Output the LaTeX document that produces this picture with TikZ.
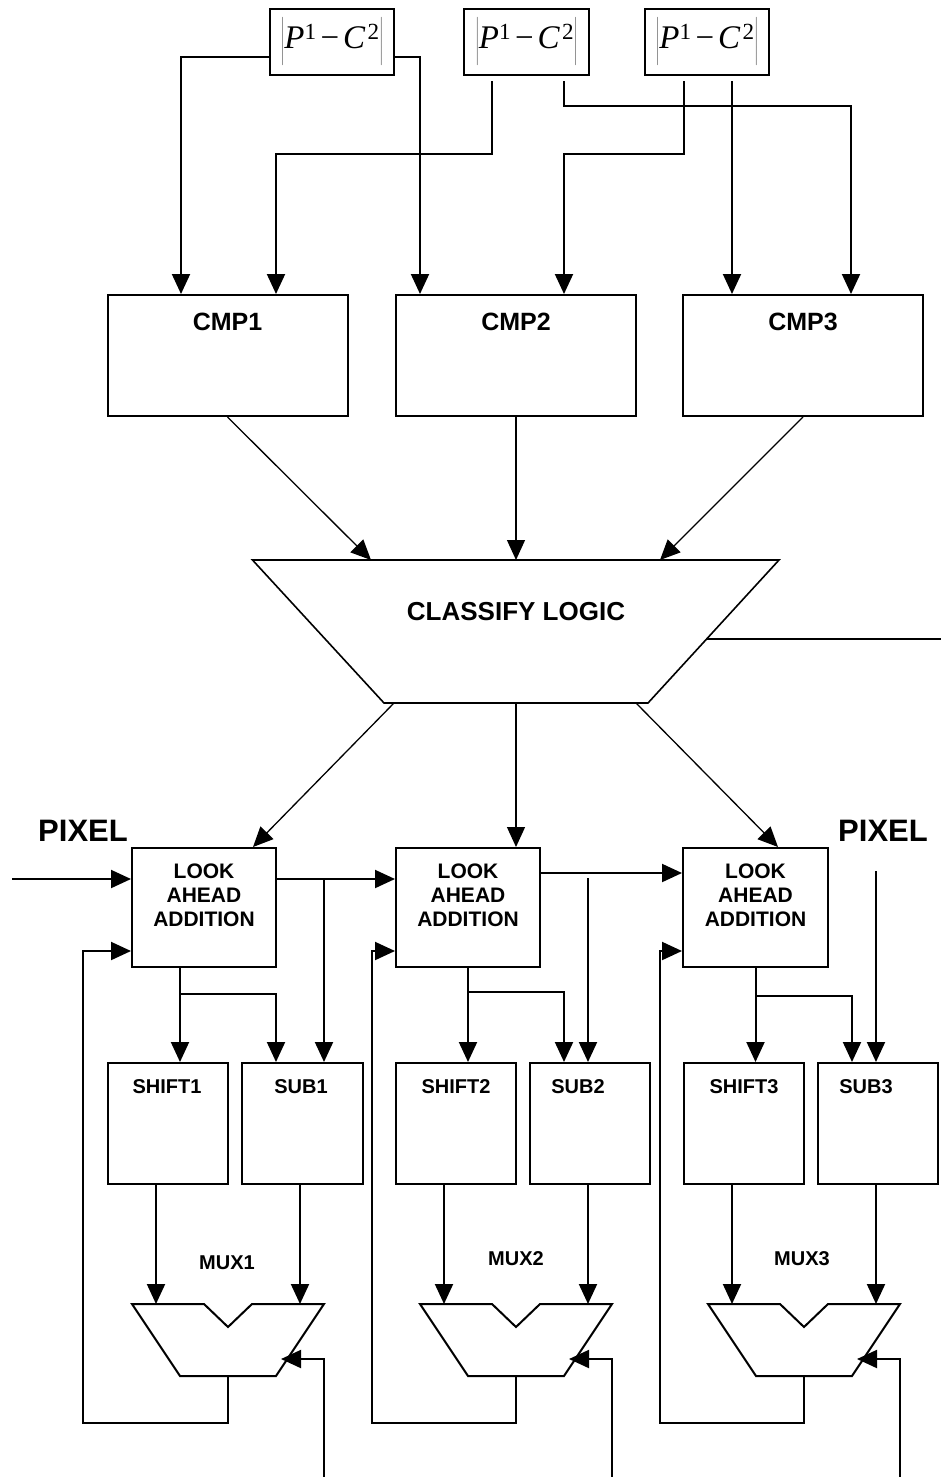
\documentclass[tikz,border=0pt]{standalone}
\usepackage{fontspec}
\setmainfont{Liberation Sans}
\newfontfamily\tnr{Liberation Serif}
\usetikzlibrary{arrows.meta,positioning,calc}

\newcommand{\pcterm}{\fontsize{33}{40}\selectfont$\left|\mbox{\rule[-12pt]{0pt}{42pt}\tnr\textit{P}\textsuperscript{1}\kern4pt−\kern4pt\textit{C}\kern2pt\textsuperscript{2}}\right|$}

\tikzset{
  blk/.style={draw,line width=2pt,inner sep=0pt},
  arr/.style={line width=2pt,-{Triangle[length=20pt,width=18pt]}},
  tarr/.style={line width=1.3pt,-{Triangle[length=20pt,width=18pt]}},
  cmptxt/.style={font=\bfseries\fontsize{25}{30}\selectfont},
  latxt/.style={font=\bfseries\fontsize{21}{24}\selectfont,align=center},
  boxtxt/.style={font=\bfseries\fontsize{20}{24}\selectfont},
  pixtxt/.style={font=\bfseries\fontsize{31}{36}\selectfont},
}

\begin{document}
\begin{tikzpicture}[x=1pt,y=-1pt]
\useasboundingbox (0,0) rectangle (941,1477);
% difference terms
\node[blk,line width=2.5pt,minimum width=124pt,minimum height=66pt] (in1) at (332,42) {\pcterm};
\node[blk,line width=2.5pt,minimum width=125pt,minimum height=66pt] (in2) at (526.5,42) {\pcterm};
\node[blk,line width=2.5pt,minimum width=124pt,minimum height=66pt] (in3) at (707,42) {\pcterm};
% comparators
\node[blk,minimum width=240pt,minimum height=121pt,label={[cmptxt,anchor=center,yshift=-28pt]north:CMP1}] (cmp1) at (227.5,355.5) {};
\node[blk,minimum width=240pt,minimum height=121pt,label={[cmptxt,anchor=center,yshift=-28pt]north:CMP2}] (cmp2) at (516,355.5) {};
\node[blk,minimum width=240pt,minimum height=121pt,label={[cmptxt,anchor=center,yshift=-28pt]north:CMP3}] (cmp3) at (803,355.5) {};
\draw[arr] ([yshift=-15pt]in1.west) -| ([xshift=-46.5pt]cmp1.north);
\draw[arr] ([yshift=-15pt]in1.east) -| ([xshift=-96pt]cmp2.north);
\draw[arr] ([xshift=-34.5pt,yshift=-5pt]in2.south) -- ++(0,73) -| ([xshift=48.5pt]cmp1.north);
\draw[arr] ([xshift=37.5pt,yshift=-5pt]in2.south) -- ++(0,25) -| ([xshift=48pt]cmp3.north);
\draw[arr] ([xshift=-23pt,yshift=-5pt]in3.south) -- ++(0,73) -| ([xshift=48pt]cmp2.north);
\draw[arr] ([xshift=25pt,yshift=-5pt]in3.south) -- ([xshift=-71pt]cmp3.north);
% classify logic
\draw[line width=1.6pt] (252.5,560) -- (779,560) -- (648,703) -- (384,703) -- cycle;
\node[cmptxt,font=\bfseries\fontsize{26}{30}\selectfont] (cls) at (516,612) {CLASSIFY LOGIC};
\coordinate (cl1) at (371,560);
\coordinate (cl2) at (516,560);
\coordinate (cl3) at (660,560);
\coordinate (co1) at (394,703);
\coordinate (co2) at (516,703);
\coordinate (co3) at (636,703);
\coordinate (clr) at (707,639);
\draw[tarr] (cmp1.south) -- (cl1);
\draw[tarr] (cmp2.south) -- (cl2);
\draw[tarr] (cmp3.south) -- (cl3);
\draw[line width=1.3pt] (clr) -- (941,639);
% look ahead adders
\node[blk,minimum width=144pt,minimum height=119pt,label={[latxt,anchor=center,yshift=-48pt]north:LOOK\\AHEAD\\ADDITION}] (la1) at (204,907.5) {};
\node[blk,minimum width=144pt,minimum height=119pt,label={[latxt,anchor=center,yshift=-48pt]north:LOOK\\AHEAD\\ADDITION}] (la2) at (468,907.5) {};
\node[blk,minimum width=145pt,minimum height=119pt,label={[latxt,anchor=center,yshift=-48pt]north:LOOK\\AHEAD\\ADDITION}] (la3) at (755.5,907.5) {};
\draw[tarr] (co1) -- ([xshift=49pt]la1.north);
\draw[tarr] (co2) -- ([xshift=48pt]la2.north);
\draw[tarr] (co3) -- ([xshift=22.5pt]la3.north);
\node[pixtxt] (pix1) at (83,831) {PIXEL};
\node[pixtxt] (pix2) at (883,831) {PIXEL};
\coordinate (pin) at (12,879);
\coordinate (j1) at (324,879);
\coordinate (j2) at (588,878);
\coordinate (j3) at (876,871);
\draw[arr] (pin) -- (pin -| la1.west);
\draw[arr] ([yshift=28.5pt]la1.east) -- ([yshift=28.5pt]la2.west);
\draw[arr] ([yshift=34.5pt]la2.east) -- ([yshift=34.5pt]la3.west);
% shifters and subtractors
\node[blk,minimum width=120pt,minimum height=121pt,label={[boxtxt,anchor=center,yshift=-25pt,xshift=-1pt]north:SHIFT1}] (shift1) at (168,1123.5) {};
\node[blk,minimum width=121pt,minimum height=121pt,label={[boxtxt,anchor=center,yshift=-25pt,xshift=-1.5pt]north:SUB1}] (sub1) at (302.5,1123.5) {};
\node[blk,minimum width=120pt,minimum height=121pt,label={[boxtxt,anchor=center,yshift=-25pt]north:SHIFT2}] (shift2) at (456,1123.5) {};
\node[blk,minimum width=120pt,minimum height=121pt,label={[boxtxt,anchor=center,yshift=-25pt,xshift=-12pt]north:SUB2}] (sub2) at (590,1123.5) {};
\node[blk,minimum width=120pt,minimum height=121pt,label={[boxtxt,anchor=center,yshift=-25pt]north:SHIFT3}] (shift3) at (744,1123.5) {};
\node[blk,minimum width=120pt,minimum height=121pt,label={[boxtxt,anchor=center,yshift=-25pt,xshift=-12pt]north:SUB3}] (sub3) at (878,1123.5) {};
\draw[arr] ([xshift=-24pt]la1.south) -- ([xshift=-24pt]la1.south |- shift1.north);
\draw[arr] ([xshift=-24pt,yshift=-26pt]la1.south) -| ([xshift=-26.5pt]sub1.north);
\draw[arr] (j1) -- (j1 |- sub1.north);
\draw[arr] (la2.south) -- (la2.south |- shift2.north);
\draw[arr] ([yshift=-24pt]la2.south) -| ([xshift=-26pt]sub2.north);
\draw[arr] (j2) -- (j2 |- sub2.north);
\draw[arr] (la3.south) -- (la3.south |- shift3.north);
\draw[arr] ([yshift=-28pt]la3.south) -| ([xshift=-26pt]sub3.north);
\draw[arr] (j3) -- (j3 |- sub3.north);
% multiplexers
\draw[line width=2pt] (132,1304) -- (204,1304) -- (228,1327) -- (252,1304) -- (324,1304) -- (276,1376) -- (180,1376) -- cycle;
\draw[line width=2pt] (420,1304) -- (492,1304) -- (516,1327) -- (540,1304) -- (612,1304) -- (564,1376) -- (468,1376) -- cycle;
\draw[line width=2pt] (708,1304) -- (780,1304) -- (804,1327) -- (828,1304) -- (900,1304) -- (852,1376) -- (756,1376) -- cycle;
\node[boxtxt] (mux1) at (227,1263) {MUX1};
\node[boxtxt] (mux2) at (516,1259) {MUX2};
\node[boxtxt] (mux3) at (802,1259) {MUX3};
\coordinate (m1a) at (156,1304);
\coordinate (m1b) at (300,1304);
\coordinate (m1s) at (281,1359);
\coordinate (m1o) at (228,1376);
\coordinate (m1c) at (324,1477);
\coordinate (m2a) at (444,1304);
\coordinate (m2b) at (588,1304);
\coordinate (m2s) at (569,1359);
\coordinate (m2o) at (516,1376);
\coordinate (m2c) at (612,1477);
\coordinate (m3a) at (732,1304);
\coordinate (m3b) at (876,1304);
\coordinate (m3s) at (857,1359);
\coordinate (m3o) at (804,1376);
\coordinate (m3c) at (900,1477);
\draw[arr] (shift1.south -| m1a) -- (m1a);
\draw[arr] (sub1.south -| m1b) -- (m1b);
\draw[arr] (shift2.south -| m2a) -- (m2a);
\draw[arr] (sub2.south -| m2b) -- (m2b);
\draw[arr] (shift3.south -| m3a) -- (m3a);
\draw[arr] (sub3.south -| m3b) -- (m3b);
\draw[arr] (m1c) |- (m1s);
\draw[arr] (m2c) |- (m2s);
\draw[arr] (m3c) |- (m3s);
% feedback to the adders
\draw[arr] (m1o) -- ++(0,47) -- ++(-145,0) |- ([yshift=-43.5pt]la1.west);
\draw[arr] (m2o) -- ++(0,47) -- ++(-144,0) |- ([yshift=-43.5pt]la2.west);
\draw[arr] (m3o) -- ++(0,47) -- ++(-144,0) |- ([yshift=-43.5pt]la3.west);
\end{tikzpicture}
\end{document}
